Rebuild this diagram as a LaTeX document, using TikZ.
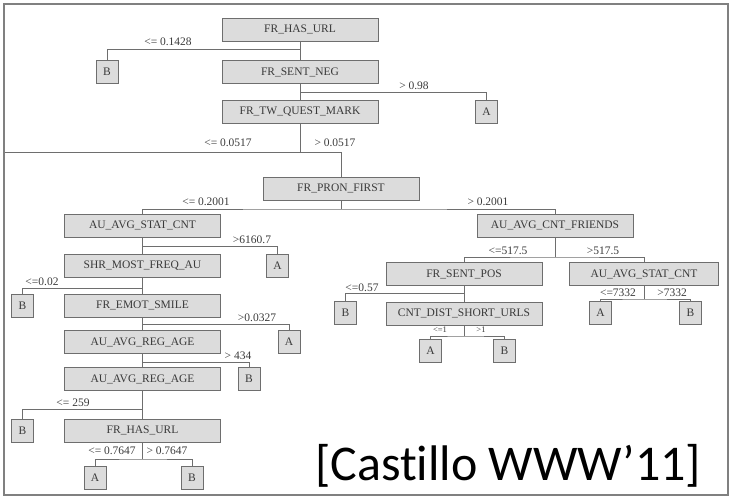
\documentclass[tikz,border=0pt]{standalone}
\usepackage{fontspec}
\setmainfont{Liberation Serif}
\newfontfamily\capfont[Ligatures=NoCommon]{Carlito}

\definecolor{boxfill}{HTML}{DCDCDC}
\definecolor{edge}{HTML}{6E6E6E}
\definecolor{ink}{HTML}{3A3A3A}

\tikzset{
    test/.style={draw=edge, fill=boxfill, text=ink, line width=0.9pt,
        minimum width=156pt, minimum height=23pt, inner sep=0pt,
        font=\fontsize{11.5}{12}\selectfont},
    leaf/.style={test, minimum width=22pt},
    lbl/.style={text=ink, inner sep=0pt, font=\fontsize{11.5}{12}\selectfont},
    branch/.style={draw=edge, line width=0.9pt},
}

\begin{document}
\begin{tikzpicture}[x=1pt, y=-1pt]
    \useasboundingbox (0,0) rectangle (731,498);
    \draw[gray, line width=2pt] (4,4) rectangle (728,495);

    % tests
    \node[test] (fhu)  at (300,29.5)  {FR\_HAS\_URL};
    \node[test] (fsn)  at (300,72)    {FR\_SENT\_NEG};
    \node[test] (ftq)  at (300,111.5) {FR\_TW\_QUEST\_MARK};
    \node[test] (fpf)  at (341,188.5) {FR\_PRON\_FIRST};
    \node[test] (aasc) at (142.5,225.5) {AU\_AVG\_STAT\_CNT};
    \node[test] (shr)  at (142.5,265.5) {SHR\_MOST\_FREQ\_AU};
    \node[test] (fes)  at (142.5,305.5) {FR\_EMOT\_SMILE};
    \node[test] (aara) at (142.5,342)   {AU\_AVG\_REG\_AGE};
    \node[test] (aarb) at (142.5,379)   {AU\_AVG\_REG\_AGE};
    \node[test] (fhb)  at (142.5,430.5) {FR\_HAS\_URL};
    \node[test] (aacf) at (555,225.5)   {AU\_AVG\_CNT\_FRIENDS};
    \node[test] (fsp)  at (464,274)     {FR\_SENT\_POS};
    \node[test] (cds)  at (464,313.5)   {CNT\_DIST\_SHORT\_URLS};
    \node[test, minimum width=149pt] (aasr) at (644,274) {AU\_AVG\_STAT\_CNT};

    % leaves
    \foreach \n/\x/\y/\c in {b1/107/72/B, a1/486.5/111.5/A, a2/277.5/265.5/A,
        b2/22.5/305.5/B, a3/289/342/A, b3/249/379/B, b4/22.5/430.5/B,
        a4/95/477.5/A, b5/192/477.5/B, b6/345.5/313/B, a5/430.5/351/A,
        b7/504.5/351/B, a6/600.5/313/A, b8/690.5/313/B}
        \node[leaf] (\n) at (\x,\y) {\c};

    % junctions
    \coordinate (j1) at (300,49);
    \coordinate (j2) at (300,92);
    \coordinate (j3) at (300,152);
    \coordinate (cut) at (5,152);
    \coordinate (j4) at (341,209);
    \coordinate (j5) at (142.5,246);
    \coordinate (j6) at (142.5,288);
    \coordinate (j7) at (142.5,324);
    \coordinate (j8) at (142.5,362);
    \coordinate (j9) at (142.5,409);
    \coordinate (j10) at (142.5,459);
    \coordinate (j11) at (555,257);
    \coordinate (j12) at (464,293);
    \coordinate (j13) at (464,336);
    \coordinate (j14) at (644,299);

    \draw[branch] (fhu) -- (fsn) -- (ftq) -- (j3);
    \draw[branch] (j1) -| (b1);
    \draw[branch] (j2) -| (a1);
    \draw[branch] (cut) -| (fpf);
    \draw[branch] (fpf) -- (j4);
    \draw[branch] (aasc) |- (j4) -| (aacf);
    \draw[branch] (aasc) -- (shr) -- (fes) -- (aara) -- (aarb) -- (fhb) -- (j10);
    \draw[branch] (j5) -| (a2);
    \draw[branch] (j6) -| (b2);
    \draw[branch] (j7) -| (a3);
    \draw[branch] (j8) -| (b3);
    \draw[branch] (j9) -| (b4);
    \draw[branch] (a4) |- (j10) -| (b5);
    \draw[branch] (aacf) -- (j11);
    \draw[branch] (fsp) |- (j11) -| (aasr);
    \draw[branch] (fsp) -- (cds) -- (j13);
    \draw[branch] (j12) -| (b6);
    \draw[branch] (a5) |- (j13) -| (b7);
    \draw[branch] (aasr) -- (j14);
    \draw[branch] (a6) |- (j14) -| (b8);

    % branch labels
    \foreach \x/\y/\t [count=\i] in {168/42/{<= 0.1428}, 414/86/{> 0.98},
        228/143/{<= 0.0517}, 335/143/{> 0.0517}, 206/202/{<= 0.2001},
        488/202/{> 0.2001}, 252/240/{>6160.7}, 42/282/{<=0.02},
        257/318/{>0.0327}, 238/356/{> 434}, 73/403/{<= 259},
        112/451/{<= 0.7647}, 167/451/{> 0.7647}, 508/251/{<=517.5},
        603/251/{>517.5}, 362/288/{<=0.57}, 618/293/{<=7332},
        672/293/{>7332}}
        \node[lbl] (l\i) at (\x,\y) {\t};
    \node[lbl, font=\fontsize{8.5}{9}\selectfont] (l19) at (440,330) {<=1};
    \node[lbl, font=\fontsize{8.5}{9}\selectfont] (l20) at (481,330) {>1};

    \node[anchor=base west, inner sep=0pt, font=\capfont\fontsize{50}{50}\selectfont]
        (cap) at (315,480) {[Castillo WWW’11]};
\end{tikzpicture}
\end{document}
